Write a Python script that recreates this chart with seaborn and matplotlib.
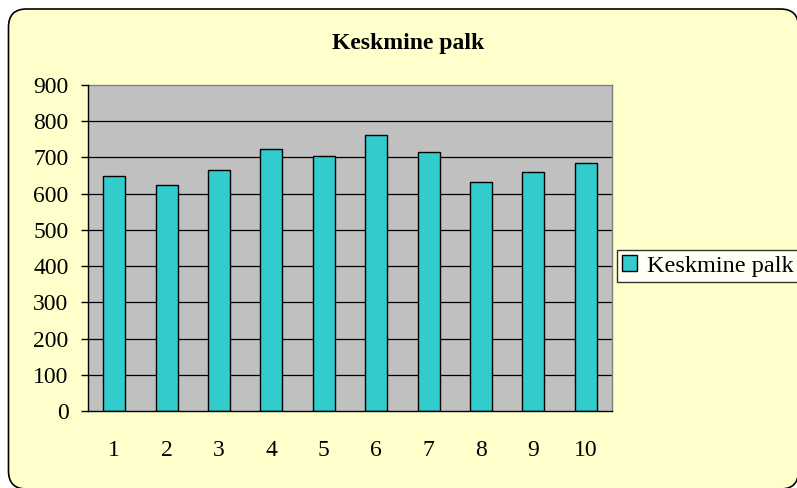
import numpy as np
import matplotlib
matplotlib.use('Agg')
import matplotlib.pyplot as plt
import matplotlib.transforms as mtransforms
import seaborn as sns
import pandas as pd
from matplotlib.patches import FancyBboxPatch, Patch

categories = ['1', '2', '3', '4', '5', '6', '7', '8', '9', '10']
values = [648, 624, 664, 722, 704, 763, 715, 633, 660, 684]
series_name = 'Keskmine palk'
title = 'Keskmine palk'
y_ticks = [0, 100, 200, 300, 400, 500, 600, 700, 800, 900]

sns.set_theme(style="white")
plt.rcParams['font.family'] = ['Liberation Serif', 'DejaVu Serif']
plt.rcParams['text.color'] = 'black'
plt.rcParams['xtick.color'] = 'black'
plt.rcParams['ytick.color'] = 'black'

df = pd.DataFrame({'cat': categories, 'val': values})

fig = plt.figure(figsize=(7.97, 4.88), dpi=100)
fig.patch.set_facecolor('white')
W, H = 797, 488
# rounded chart-area frame, in pixel coordinates (origin bottom-left)
frame = FancyBboxPatch((8.5, -1.0), 790, H - 8.5 + 0.5,
                       boxstyle="round,pad=0,rounding_size=18",
                       transform=mtransforms.IdentityTransform(), facecolor='#FFFFCC',
                       edgecolor='black', linewidth=1.2, zorder=-10)
fig.patches.append(frame)

ax = fig.add_axes([88 / W, 1 - 411 / H, (612 - 88) / W, (411 - 85) / H])
ax.set_facecolor('#C0C0C0')
sns.barplot(data=df, x='cat', y='val', color='#33CCCC', width=0.42,
            edgecolor='black', linewidth=1.0, saturation=1, ax=ax, zorder=3)

ax.set_ylim(0, 900)
ax.set_xlim(-0.5, 9.5)
ax.set_yticks(y_ticks)
ax.set_yticklabels([str(t) for t in y_ticks], fontsize=17)
for t in y_ticks[1:-1]:
    ax.axhline(t, color='black', linewidth=0.9, zorder=1)

# category ticks at boundaries, labels at centres
ax.set_xticks(np.arange(-0.5, 10, 1))
ax.set_xticklabels([])
ax.set_xticks(np.arange(0, 10), minor=True)
ax.set_xticklabels(categories, minor=True, fontsize=17)
ax.tick_params(axis='x', which='major', direction='out', length=5, width=1, color='black')
ax.tick_params(axis='x', which='minor', length=0, pad=21)
ax.tick_params(axis='y', direction='out', length=5, width=1, color='black', pad=9, left=True)

for s in ['top', 'right']:
    ax.spines[s].set_color('#808080')
    ax.spines[s].set_linewidth(1.0)
for s in ['left', 'bottom']:
    ax.spines[s].set_color('black')
    ax.spines[s].set_linewidth(1.0)
    ax.spines[s].set_zorder(4)

ax.set_xlabel('')
ax.set_ylabel('')

fig.text(408 / W, 1 - 43 / H, title, ha='center', va='center',
         fontsize=17, fontweight='bold')

handle = Patch(facecolor='#33CCCC', edgecolor='black', linewidth=1.0)
leg = fig.legend([handle], [series_name], loc='upper left',
                 bbox_to_anchor=(617 / W, 1 - 250 / H), frameon=True, fontsize=17.5,
                 fancybox=False, borderpad=0.22, handlelength=0.6, handleheight=0.6,
                 handletextpad=0.4, borderaxespad=0)
leg.get_frame().set_edgecolor('black')
leg.get_frame().set_facecolor('white')
leg.get_frame().set_linewidth(1.0)

fig.savefig('out.png', dpi=100)
